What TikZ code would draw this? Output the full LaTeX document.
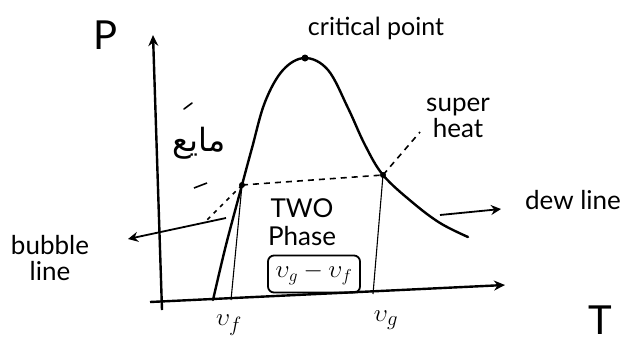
\documentclass[tikz,border=0pt]{standalone}
\usepackage{fontspec}
\setmainfont{Lato}
\newfontfamily\arabicfont[Script=Arabic]{DejaVu Sans}
\TeXXeTstate=1
\usetikzlibrary{arrows.meta}
\begin{document}
\begin{tikzpicture}[x=1pt,y=-1pt,
  axis/.style={line width=2.4pt, -{Stealth[length=11pt,width=10pt]}},
  dome/.style={line width=2.4pt, line cap=round},
  thinline/.style={line width=1.1pt},
  dashline/.style={line width=1.6pt, dash pattern=on 6pt off 5pt},
  pointer/.style={line width=1.8pt, -{Stealth[length=10pt,width=10pt]}},
  lbl/.style={font=\fontsize{26}{30}\selectfont, inner sep=0pt, align=center},
  sm/.style={font=\fontsize{25}{27}\selectfont, inner sep=0pt},
  bigl/.style={font=\fontsize{40}{44}\selectfont, inner sep=0pt},
  dotm/.style={circle, fill=black, inner sep=0pt, minimum size=7pt}]
\useasboundingbox[fill=white] (0,0) rectangle (631,346);
% axes
\coordinate (ybot) at (162,310);
\coordinate (ytop) at (153,35);
\coordinate (xleft) at (150,302);
\coordinate (xright) at (505,285);
\draw[axis] (ybot) -- (ytop);
\draw[axis] (xleft) -- (xright);
% key points
\coordinate (domeL) at (213,300);
\node[dotm, minimum size=6pt] (bub) at (242,185) {};
\node[dotm] (cp) at (305,58) {};
\node[dotm, minimum size=6pt] (dew) at (383,175) {};
\coordinate (domeR) at (468,237);
\coordinate (vfB) at (231,300);
\coordinate (vgB) at (373,294);
% dome
\draw[dome] plot[smooth, tension=0.6] coordinates {(domeL) (226,245) (bub) (252,148) (265,102) (283,70) (cp) (328,70) (348,108) (365,145) (dew) (412,202) (440,223) (domeR)};
% vf, vg lines
\draw[thinline] (bub.center) -- (vfB);
\draw[thinline] (dew.center) -- (vgB);
% dashed lines
\draw[dashline] (bub.center) -- (dew.center);
\coordinate (dashL1) at (194,188);
\coordinate (dashL2) at (207,183);
\draw[line width=1.6pt] (dashL1) -- (dashL2);
\coordinate (dotEnd) at (205,222);
\draw[dashline, dash pattern=on 4pt off 5pt] (bub.center) -- (dotEnd);
\coordinate (shEnd) at (420,132);
\draw[dashline] (dew.center) -- (shEnd);
% stray stroke
\coordinate (st1) at (184,109);
\coordinate (st2) at (192,103);
\draw[line width=1.6pt, line cap=round] (st1) -- (st2);
% labels
\node[bigl] (Plbl) at (106,35) {P};
\node[bigl] (Tlbl) at (600,320) {T};
\node[sm] (cplbl) at (376,28) {critical point};
\node[lbl] (shlbl) at (458,118) {super\\[-4pt]heat};
\node[lbl] (dewlbl) at (573,200) {dew line};
\node[lbl] (bublbl) at (50,258) {bubble\\[-4pt]line};
\node[lbl] (twolbl) at (302,222) {TWO\\[-2pt]Phase};
\node[draw, line width=1.8pt, rounded corners=6pt, minimum width=92pt, minimum height=37pt, inner sep=0pt, font=\fontsize{26}{28}\selectfont] (box) at (314,274) {$\upsilon_g-\upsilon_f$};
\node[font=\fontsize{30}{32}\selectfont, inner sep=0pt] (vflbl) at (229,325) {$\upsilon_f$};
\node[font=\fontsize{30}{32}\selectfont, inner sep=0pt] (vglbl) at (386,320) {$\upsilon_g$};
\node[font=\arabicfont\fontsize{32}{34}\selectfont, inner sep=0pt] (liq) at (199,143) {\beginR مایع\endR};
% pointers
\coordinate (dewS) at (440,215);
\coordinate (dewE) at (501,209);
\draw[pointer] (dewS) -- (dewE);
\coordinate (bubS) at (226,218);
\coordinate (bubE) at (128,239);
\draw[pointer] (bubS) -- (bubE);
\end{tikzpicture}
\end{document}
